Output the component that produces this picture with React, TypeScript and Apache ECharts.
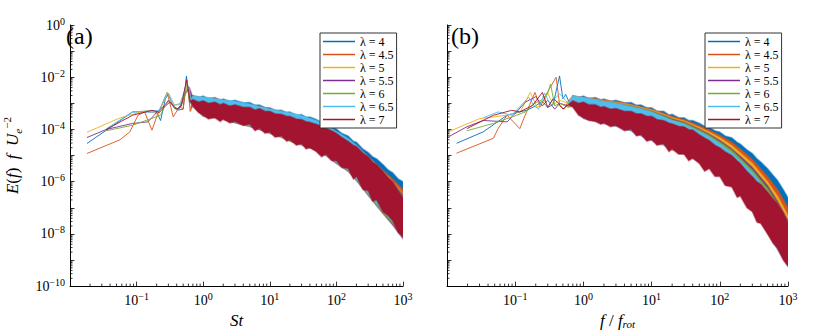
import React, { useEffect, useRef } from "react";
import * as echarts from "echarts";

// ---------- data ----------
const LAMBDAS = ["λ = 4", "λ = 4.5", "λ = 5", "λ = 5.5", "λ = 6", "λ = 6.5", "λ = 7"];
const COLORS = ["#0072BD", "#D95319", "#EDB120", "#7E2F8E", "#77AC30", "#4DBEEE", "#A2142F"];
const PANEL_LABELS = ["(a)", "(b)"];

// frequencies of the broadband (noisy) part of each spectrum
const BAND_X = [0.7, 1, 1.5, 2, 3, 5, 7, 10, 15, 20, 30, 50, 70, 100, 150, 200, 300, 500, 700, 1000];
const DENSE_X = [0.7, 0.85, 1, 1.2, 1.5, 1.8, 2, 2.5, 3, 4, 5, 6, 7, 8.5, 10, 12, 15, 18, 20, 25, 30, 35, 40, 50, 60, 70, 85, 100, 120, 150, 180, 200, 250, 300, 350, 400, 500, 600, 700, 850, 1000];

// ---- panel (a): E(f) f Ue^-2 vs St ----
const A_LOW_4 = [[0.018, 2.9e-5], [0.045, 1.45e-4], [0.087, 4.7e-4], [0.123, 4.7e-4], [0.2, 4.6e-4], [0.229, 2.2e-4], [0.27, 1.5e-3], [0.3, 2.2e-3], [0.36, 7e-4], [0.42, 5.5e-4], [0.5, 6e-4], [0.56, 1.1e-2], [0.62, 1.2e-3]];
const A_LOW_45 = [[0.018, 1.2e-5], [0.056, 4e-5], [0.079, 8e-5], [0.105, 3.5e-4], [0.132, 4.7e-4], [0.17, 9.3e-5], [0.204, 3.5e-4], [0.288, 2.6e-3], [0.355, 3e-4], [0.44, 7.5e-4], [0.5, 6e-4], [0.57, 8e-3], [0.64, 5e-4]];
const A_LOW_5 = [[0.018, 7.8e-5], [0.056, 2.75e-4], [0.123, 4.9e-4], [0.166, 5.4e-4], [0.21, 3.5e-4], [0.288, 2.6e-3], [0.36, 8.3e-4], [0.45, 1.0e-3], [0.58, 5.4e-3], [0.65, 1.5e-3]];
const A_LOW_55 = [[0.018, 4.9e-5], [0.035, 1e-4], [0.087, 1.7e-4], [0.148, 1.95e-4], [0.204, 4.7e-4], [0.26, 8e-4], [0.3, 1.3e-3], [0.37, 7e-4], [0.43, 6e-4], [0.55, 2.5e-3], [0.62, 4e-3]];
const A_LOW_6 = [[0.035, 8.9e-5], [0.087, 1.45e-4], [0.166, 2.6e-4], [0.229, 3.5e-4], [0.27, 9e-4], [0.31, 1.26e-3], [0.38, 6e-4], [0.46, 7e-4], [0.59, 4.7e-3], [0.66, 1.2e-3]];
const A_LOW_65 = [[0.035, 1.07e-4], [0.087, 4.7e-4], [0.22, 5.4e-4], [0.275, 2e-3], [0.3, 2.5e-3], [0.37, 8.5e-4], [0.45, 9e-4], [0.57, 6.3e-3], [0.65, 1.4e-3]];
const A_LOW_7 = [[0.035, 1e-4], [0.087, 3.5e-4], [0.17, 5.4e-4], [0.22, 4.5e-4], [0.275, 8.3e-4], [0.316, 1.12e-3], [0.4, 6e-4], [0.47, 8e-4], [0.562, 7.9e-3], [0.64, 1.2e-3]];

// upper / lower envelopes of the noisy band (λ = 4 and λ = 7 on DENSE_X, others on BAND_X)
const A_UP_4 = [2.0e-3, 1.66e-3, 1.9e-3, 1.51e-3, 1.66e-3, 1.32e-3, 1.48e-3, 1.2e-3, 1.32e-3, 1.05e-3, 1.07e-3, 8.5e-4, 8.7e-4, 6.9e-4, 6.8e-4, 5.4e-4, 5.4e-4, 4.4e-4, 4.7e-4, 3.5e-4, 3.7e-4, 2.95e-4, 3.0e-4, 2.4e-4, 1.9e-4, 1.78e-4, 1.26e-4, 1.05e-4, 7.1e-5, 5.6e-5, 3.5e-5, 3.2e-5, 1.78e-5, 1.32e-5, 8.9e-6, 7.6e-6, 4.5e-6, 2.8e-6, 2.2e-6, 1.26e-6, 1.0e-6];
const A_LO_4 = [8.5e-4, 5.0e-4, 4.0e-4, 3.5e-4, 3.5e-4, 3.1e-4, 3.0e-4, 2.5e-4, 2.2e-4, 1.8e-4, 1.6e-4, 1.4e-4, 1.26e-4, 1.05e-4, 8.9e-5, 7.5e-5, 6.0e-5, 5.0e-5, 4.5e-5, 3.8e-5, 3.2e-5, 2.7e-5, 2.4e-5, 2.0e-5, 1.6e-5, 1.26e-5, 9.0e-6, 6.3e-6, 4.5e-6, 3.2e-6, 2.0e-6, 1.4e-6, 7.0e-7, 4.0e-7, 2.5e-7, 1.8e-7, 7.9e-8, 5.0e-8, 3.2e-8, 1.8e-8, 1.0e-8];
const A_UP_45 = [1.9e-3, 1.66e-3, 1.51e-3, 1.32e-3, 1.12e-3, 8.9e-4, 7.6e-4, 6.0e-4, 4.8e-4, 4.2e-4, 3.2e-4, 2.1e-4, 1.41e-4, 7.9e-5, 4.2e-5, 2.4e-5, 8.9e-6, 2.8e-6, 1.26e-6, 5.0e-7];
const A_LO_45 = [8.0e-4, 3.5e-4, 3.2e-4, 2.6e-4, 2.0e-4, 1.41e-4, 1.12e-4, 7.9e-5, 5.4e-5, 4.0e-5, 2.8e-5, 1.78e-5, 1.12e-5, 5.6e-6, 2.8e-6, 1.26e-6, 3.5e-7, 7.1e-8, 2.8e-8, 8.9e-9];
const A_UP_5 = [1.78e-3, 1.58e-3, 1.41e-3, 1.26e-3, 1.05e-3, 8.3e-4, 7.1e-4, 5.6e-4, 4.5e-4, 3.8e-4, 3.0e-4, 2.0e-4, 1.32e-4, 7.1e-5, 3.8e-5, 2.1e-5, 7.9e-6, 2.4e-6, 1.0e-6, 3.5e-7];
const A_LO_5 = [8.2e-4, 3.4e-4, 3.0e-4, 2.5e-4, 1.9e-4, 1.35e-4, 1.07e-4, 7.6e-5, 5.2e-5, 3.8e-5, 2.7e-5, 1.7e-5, 1.07e-5, 5.4e-6, 2.7e-6, 1.2e-6, 3.4e-7, 6.8e-8, 2.7e-8, 8.5e-9];
const A_UP_55 = [1.66e-3, 1.51e-3, 1.32e-3, 1.2e-3, 1.0e-3, 7.9e-4, 6.6e-4, 5.2e-4, 4.2e-4, 3.5e-4, 2.8e-4, 1.9e-4, 1.26e-4, 6.6e-5, 3.5e-5, 2.0e-5, 7.6e-6, 2.2e-6, 8.9e-7, 3.2e-7];
const A_LO_55 = [7.9e-4, 3.2e-4, 2.9e-4, 2.4e-4, 1.8e-4, 1.3e-4, 1.0e-4, 7.2e-5, 5.0e-5, 3.6e-5, 2.6e-5, 1.6e-5, 1.0e-5, 5.0e-6, 2.5e-6, 1.1e-6, 3.0e-7, 6.0e-8, 2.2e-8, 6.5e-9];
const A_UP_6 = [1.66e-3, 1.41e-3, 1.26e-3, 1.12e-3, 9.5e-4, 7.6e-4, 6.3e-4, 5.0e-4, 4.0e-4, 3.3e-4, 2.6e-4, 1.78e-4, 1.2e-4, 6.3e-5, 3.3e-5, 1.9e-5, 7.1e-6, 2.1e-6, 8.3e-7, 2.8e-7];
const A_LO_6 = [8.0e-4, 3.3e-4, 2.9e-4, 2.45e-4, 1.85e-4, 1.3e-4, 1.02e-4, 7.3e-5, 5.0e-5, 3.7e-5, 2.6e-5, 1.65e-5, 1.03e-5, 5.2e-6, 2.6e-6, 1.15e-6, 3.2e-7, 6.5e-8, 2.5e-8, 7.5e-9];
const A_UP_65 = [1.9e-3, 1.74e-3, 1.51e-3, 1.35e-3, 1.2e-3, 9.5e-4, 7.6e-4, 6.0e-4, 5.0e-4, 4.4e-4, 3.4e-4, 2.2e-4, 1.51e-4, 8.3e-5, 4.5e-5, 2.5e-5, 8.9e-6, 2.5e-6, 8.9e-7, 2.5e-7];
const A_LO_65 = [8.3e-4, 3.4e-4, 3.0e-4, 2.5e-4, 1.9e-4, 1.35e-4, 1.08e-4, 7.7e-5, 5.3e-5, 3.9e-5, 2.7e-5, 1.75e-5, 1.1e-5, 5.5e-6, 2.8e-6, 1.25e-6, 3.6e-7, 7.5e-8, 3.0e-8, 1.0e-8];
const A_UP_7 = [1.41e-3, 1.12e-3, 1.26e-3, 1.0e-3, 1.12e-3, 8.9e-4, 1.0e-3, 7.9e-4, 8.9e-4, 7.1e-4, 7.1e-4, 5.6e-4, 6.3e-4, 5.0e-4, 5.0e-4, 4.0e-4, 3.8e-4, 3.2e-4, 3.2e-4, 2.5e-4, 2.4e-4, 2.0e-4, 1.9e-4, 1.58e-4, 1.32e-4, 1.12e-4, 8.9e-5, 7.1e-5, 5.0e-5, 3.5e-5, 2.5e-5, 2.2e-5, 1.26e-5, 8.9e-6, 5.6e-6, 4.5e-6, 2.5e-6, 1.41e-6, 1.0e-6, 4.5e-7, 2.5e-7];
const A_LO_7 = [7.9e-4, 4.5e-4, 3.5e-4, 2.5e-4, 2.8e-4, 2.0e-4, 2.5e-4, 1.78e-4, 2.0e-4, 1.41e-4, 1.58e-4, 8.9e-5, 1.12e-4, 7.1e-5, 7.9e-5, 5.0e-5, 5.6e-5, 3.5e-5, 4.0e-5, 2.5e-5, 2.8e-5, 1.78e-5, 2.0e-5, 1.41e-5, 8.9e-6, 1.12e-5, 6.3e-6, 6.3e-6, 3.5e-6, 3.2e-6, 1.26e-6, 1.58e-6, 5.0e-7, 4.5e-7, 1.78e-7, 2.0e-7, 7.1e-8, 5.0e-8, 3.2e-8, 1.12e-8, 7.9e-9];

// ---- panel (b): E(f) f Ue^-2 vs f/f_rot ----
const B_LOW_4 = [[0.0138, 2.95e-5], [0.034, 8.1e-5], [0.076, 3.5e-4], [0.11, 4.5e-4], [0.15, 5.5e-4], [0.2, 8e-4], [0.25, 1.2e-3], [0.3, 7e-4], [0.36, 9e-4], [0.447, 1.12e-2], [0.5, 1.5e-3], [0.55, 2.2e-3], [0.64, 9e-4]];
const B_LOW_45 = [[0.0138, 1.23e-5], [0.048, 4.6e-5], [0.056, 1.07e-4], [0.076, 3.5e-4], [0.117, 1.07e-4], [0.14, 3.5e-4], [0.195, 2.6e-3], [0.234, 7.5e-4], [0.3, 2.8e-3], [0.398, 1e-2], [0.45, 8e-4], [0.52, 6e-4], [0.6, 1.2e-3]];
const B_LOW_5 = [[0.0105, 8.1e-5], [0.03, 2.6e-4], [0.076, 3.5e-4], [0.12, 5e-4], [0.166, 2.6e-3], [0.21, 7e-4], [0.26, 1e-3], [0.3, 2.5e-3], [0.36, 9e-4], [0.45, 1.3e-3], [0.6, 1e-3]];
const B_LOW_55 = [[0.0105, 5.2e-5], [0.0195, 1.26e-4], [0.034, 2.2e-4], [0.076, 1.95e-4], [0.105, 4.7e-4], [0.14, 1.1e-3], [0.2, 1.8e-3], [0.25, 8e-4], [0.3, 1.3e-3], [0.38, 6e-4], [0.45, 1e-3], [0.6, 8e-4]];
const B_LOW_6 = [[0.0195, 8.9e-5], [0.048, 1.7e-4], [0.105, 3.5e-4], [0.14, 4.7e-4], [0.19, 1.0e-3], [0.24, 1.3e-3], [0.3, 2.5e-3], [0.33, 5.5e-3], [0.38, 8e-4], [0.45, 1e-3], [0.6, 7e-4]];
const B_LOW_65 = [[0.034, 2.8e-4], [0.056, 4.7e-4], [0.089, 3.5e-4], [0.141, 1.26e-3], [0.158, 1.7e-3], [0.19, 8e-4], [0.22, 6e-4], [0.27, 2.5e-3], [0.32, 1e-3], [0.45, 2.3e-3], [0.6, 1e-3]];
const B_LOW_7 = [[0.0195, 1.07e-4], [0.048, 3.5e-4], [0.089, 5.4e-4], [0.117, 4.7e-4], [0.18, 8.3e-4], [0.25, 2.6e-3], [0.3, 7e-4], [0.36, 1.5e-3], [0.42, 1.1e-3], [0.5, 6e-4], [0.6, 9e-4]];

const B_UP_4 = [2.0e-3, 1.66e-3, 1.9e-3, 1.51e-3, 1.66e-3, 1.32e-3, 1.48e-3, 1.2e-3, 1.32e-3, 1.05e-3, 1.07e-3, 8.5e-4, 8.7e-4, 6.8e-4, 6.8e-4, 5.0e-4, 5.0e-4, 3.6e-4, 3.8e-4, 2.8e-4, 2.8e-4, 2.2e-4, 2.2e-4, 1.74e-4, 1.32e-4, 1.2e-4, 8.9e-5, 7.9e-5, 5.6e-5, 4.8e-5, 3.2e-5, 2.75e-5, 1.66e-5, 1.2e-5, 7.6e-6, 5.6e-6, 3.2e-6, 1.78e-6, 1.12e-6, 5.0e-7, 2.4e-7];
const B_LO_4 = [8.5e-4, 4.5e-4, 3.5e-4, 3.1e-4, 2.8e-4, 2.4e-4, 2.2e-4, 2.0e-4, 1.78e-4, 1.5e-4, 1.26e-4, 1.05e-4, 8.9e-5, 7.5e-5, 6.3e-5, 5.2e-5, 4.2e-5, 3.5e-5, 3.2e-5, 2.6e-5, 2.2e-5, 1.8e-5, 1.6e-5, 1.26e-5, 1.0e-5, 7.9e-6, 6.0e-6, 4.5e-6, 3.2e-6, 2.2e-6, 1.5e-6, 1.12e-6, 6.0e-7, 3.5e-7, 2.0e-7, 1.3e-7, 6.3e-8, 3.5e-8, 2.0e-8, 8.0e-9, 4.0e-9];
const B_UP_45 = [1.9e-3, 1.7e-3, 1.51e-3, 1.35e-3, 1.17e-3, 9.3e-4, 7.4e-4, 5.9e-4, 4.2e-4, 3.2e-4, 2.4e-4, 1.41e-4, 9.5e-5, 6.0e-5, 3.2e-5, 1.78e-5, 7.1e-6, 1.58e-6, 5.0e-7, 1.0e-7];
const B_LO_45 = [8.0e-4, 3.2e-4, 2.5e-4, 2.0e-4, 1.58e-4, 1.12e-4, 7.9e-5, 5.4e-5, 3.5e-5, 2.5e-5, 1.78e-5, 1.0e-5, 6.3e-6, 3.5e-6, 1.78e-6, 7.9e-7, 2.5e-7, 4.0e-8, 1.12e-8, 2.2e-9];
const B_UP_5 = [1.78e-3, 1.58e-3, 1.41e-3, 1.26e-3, 1.1e-3, 8.7e-4, 6.9e-4, 5.5e-4, 3.8e-4, 2.8e-4, 2.1e-4, 1.2e-4, 7.9e-5, 4.8e-5, 2.4e-5, 1.26e-5, 5.0e-6, 1.0e-6, 2.8e-7, 5.0e-8];
const B_LO_5 = [8.2e-4, 3.0e-4, 2.4e-4, 1.9e-4, 1.51e-4, 1.05e-4, 7.1e-5, 4.8e-5, 3.2e-5, 2.2e-5, 1.51e-5, 8.3e-6, 5.2e-6, 2.8e-6, 1.41e-6, 6.3e-7, 1.78e-7, 2.5e-8, 6.3e-9, 1.26e-9];
const B_UP_55 = [1.66e-3, 1.48e-3, 1.32e-3, 1.17e-3, 1.0e-3, 7.9e-4, 6.3e-4, 5.0e-4, 3.4e-4, 2.5e-4, 1.9e-4, 1.05e-4, 6.6e-5, 3.8e-5, 1.78e-5, 9.3e-6, 3.5e-6, 7.1e-7, 1.78e-7, 3.2e-8];
const B_LO_55 = [7.9e-4, 2.8e-4, 2.2e-4, 1.78e-4, 1.41e-4, 9.5e-5, 6.3e-5, 4.3e-5, 2.8e-5, 2.0e-5, 1.32e-5, 7.1e-6, 4.5e-6, 2.4e-6, 1.12e-6, 5.0e-7, 1.26e-7, 1.78e-8, 4.0e-9, 7.9e-10];
const B_UP_6 = [1.66e-3, 1.45e-3, 1.26e-3, 1.12e-3, 9.5e-4, 7.6e-4, 6.0e-4, 4.8e-4, 3.2e-4, 2.3e-4, 1.78e-4, 9.5e-5, 6.0e-5, 3.3e-5, 1.58e-5, 7.9e-6, 2.8e-6, 5.6e-7, 1.41e-7, 2.5e-8];
const B_LO_6 = [8.0e-4, 2.75e-4, 2.2e-4, 1.74e-4, 1.38e-4, 9.1e-5, 6.0e-5, 4.0e-5, 2.6e-5, 1.86e-5, 1.2e-5, 6.3e-6, 4.0e-6, 2.1e-6, 1.0e-6, 4.2e-7, 1.0e-7, 1.41e-8, 3.2e-9, 7.1e-10];
const B_UP_65 = [1.9e-3, 1.66e-3, 1.41e-3, 1.2e-3, 1.0e-3, 7.6e-4, 6.0e-4, 4.7e-4, 3.0e-4, 2.2e-4, 1.58e-4, 8.3e-5, 5.2e-5, 2.8e-5, 1.26e-5, 6.3e-6, 2.2e-6, 4.0e-7, 1.0e-7, 1.58e-8];
const B_LO_65 = [8.3e-4, 2.6e-4, 2.1e-4, 1.66e-4, 1.32e-4, 8.7e-5, 5.6e-5, 3.8e-5, 2.5e-5, 1.74e-5, 1.12e-5, 5.6e-6, 3.5e-6, 1.78e-6, 8.3e-7, 3.5e-7, 8.9e-8, 1.12e-8, 2.5e-9, 6.3e-10];
const B_UP_7 = [1.26e-3, 1.0e-3, 1.12e-3, 8.9e-4, 8.9e-4, 7.1e-4, 7.6e-4, 6.0e-4, 6.3e-4, 5.0e-4, 5.0e-4, 4.0e-4, 4.0e-4, 3.2e-4, 3.2e-4, 2.4e-4, 2.2e-4, 1.78e-4, 1.66e-4, 1.32e-4, 1.26e-4, 1.0e-4, 9.5e-5, 6.3e-5, 4.7e-5, 3.8e-5, 2.5e-5, 2.0e-5, 1.41e-5, 1.0e-5, 6.3e-6, 5.0e-6, 2.5e-6, 1.58e-6, 1.0e-6, 7.9e-7, 4.0e-7, 2.2e-7, 1.41e-7, 6.3e-8, 2.5e-8];
const B_LO_7 = [7.1e-4, 3.5e-4, 2.8e-4, 2.2e-4, 2.0e-4, 1.58e-4, 1.78e-4, 1.26e-4, 1.41e-4, 8.9e-5, 1.0e-4, 5.6e-5, 6.3e-5, 3.5e-5, 4.0e-5, 2.5e-5, 2.8e-5, 1.41e-5, 1.78e-5, 1.12e-5, 1.12e-5, 6.3e-6, 7.9e-6, 5.0e-6, 2.5e-6, 3.2e-6, 1.58e-6, 1.58e-6, 7.1e-7, 6.3e-7, 2.5e-7, 2.8e-7, 1.0e-7, 7.1e-8, 2.8e-8, 2.5e-8, 1.0e-8, 4.5e-9, 2.8e-9, 1.0e-9, 5.6e-10];

const PANELS = [
  {
    low: [A_LOW_4, A_LOW_45, A_LOW_5, A_LOW_55, A_LOW_6, A_LOW_65, A_LOW_7],
    up: [A_UP_4, A_UP_45, A_UP_5, A_UP_55, A_UP_6, A_UP_65, A_UP_7],
    lo: [A_LO_4, A_LO_45, A_LO_5, A_LO_55, A_LO_6, A_LO_65, A_LO_7],
  },
  {
    low: [B_LOW_4, B_LOW_45, B_LOW_5, B_LOW_55, B_LOW_6, B_LOW_65, B_LOW_7],
    up: [B_UP_4, B_UP_45, B_UP_5, B_UP_55, B_UP_6, B_UP_65, B_UP_7],
    lo: [B_LO_4, B_LO_45, B_LO_5, B_LO_55, B_LO_6, B_LO_65, B_LO_7],
  },
];
const BAND_XS = [DENSE_X, BAND_X, BAND_X, BAND_X, BAND_X, BAND_X, DENSE_X];

const X_MIN = 0.01;
const X_MAX = 1000;
const Y_MIN = 1e-10;
const Y_MAX = 1;

// ---------- layout ----------
const FONT = "Liberation Serif";
const GRIDS = [
  { left: 62, top: 25, width: 341, height: 265 },
  { left: 447, top: 25, width: 341, height: 265 },
];

const supText = (e: number) => (e < 0 ? "−" + Math.abs(e) : String(e));

const tickRich = {
  b: { fontFamily: FONT, fontSize: 14, color: "#000", lineHeight: 18 },
  s: { fontFamily: FONT, fontSize: 10, color: "#000", verticalAlign: "top", lineHeight: 10 },
};

const axisCommon = {
  type: "log",
  logBase: 10,
  interval: 1,
  axisLine: { show: true, lineStyle: { color: "#000", width: 1 } },
  axisTick: { show: true, inside: true, length: 4.5, lineStyle: { color: "#000", width: 0.8 } },
  splitLine: { show: false },
};

function makeXAxis(i: number, name: string) {
  return {
    ...axisCommon,
    gridIndex: i,
    min: X_MIN,
    max: X_MAX,
    axisLabel: {
      margin: 5,
      fontFamily: FONT,
      formatter: (v: number) => {
        const e = Math.round(Math.log10(v));
        if (e <= -2) return "";
        return `{b|10}{s|${supText(e)}}`;
      },
      rich: tickRich,
    },
    name,
    nameLocation: "middle",
    nameGap: 23,
    nameTextStyle: {
      fontFamily: FONT,
      fontSize: 17,
      color: "#000",
      rich: {
        i: { fontFamily: FONT, fontSize: 17, fontStyle: "italic", color: "#000" },
        n: { fontFamily: FONT, fontSize: 17, color: "#000" },
        sub: { fontFamily: FONT, fontSize: 11, fontStyle: "italic", color: "#000", verticalAlign: "bottom", lineHeight: 11 },
      },
    },
  };
}

function makeYAxis(i: number, showLabels: boolean) {
  return {
    ...axisCommon,
    gridIndex: i,
    min: Y_MIN,
    max: Y_MAX,
    axisLabel: {
      show: showLabels,
      margin: 5,
      fontFamily: FONT,
      formatter: (v: number) => {
        const e = Math.round(Math.log10(v));
        if (e % 2 !== 0) return "";
        return `{b|10}{s|${supText(e)}}`;
      },
      rich: tickRich,
    },
    name: showLabels ? "{i|E}{n|(}{i|f}{n|)}  {i|f}  {i|U}{sub|e}{sup|−2}" : "",
    nameLocation: "middle",
    nameRotate: 90,
    nameGap: 47,
    nameTextStyle: {
      fontFamily: FONT,
      fontSize: 17,
      color: "#000",
      rich: {
        i: { fontFamily: FONT, fontSize: 17, fontStyle: "italic", color: "#000", lineHeight: 22 },
        n: { fontFamily: FONT, fontSize: 17, color: "#000", lineHeight: 22 },
        sub: { fontFamily: FONT, fontSize: 11, fontStyle: "italic", color: "#000", verticalAlign: "bottom", lineHeight: 11 },
        sup: { fontFamily: FONT, fontSize: 11, color: "#000", verticalAlign: "top", lineHeight: 11 },
      },
    },
  };
}

function spectrumSeries(panel: number, k: number) {
  const low = PANELS[panel].low[k];
  const up = PANELS[panel].up[k];
  const lo = PANELS[panel].lo[k];
  const bx = BAND_XS[k];
  const color = COLORS[k];
  return {
    type: "custom",
    name: LAMBDAS[k],
    coordinateSystem: "cartesian2d",
    xAxisIndex: panel,
    yAxisIndex: panel,
    data: [[1, 1e-3]],
    encode: { x: 0, y: 1 },
    silent: true,
    clip: true,
    z: 2 + k,
    itemStyle: { color },
    renderItem: (_params: any, api: any) => {
      const line: number[][] = low.map((p) => api.coord([p[0], p[1]]));
      const last = line[line.length - 1];
      const poly: number[][] = [last];
      bx.forEach((x, j) => poly.push(api.coord([x, up[j]])));
      for (let j = bx.length - 1; j >= 0; j--) poly.push(api.coord([bx[j], lo[j]]));
      return {
        type: "group",
        children: [
          {
            type: "polygon",
            shape: { points: poly },
            style: { fill: color, stroke: color, lineWidth: 1.6, strokeOpacity: 0.45, lineJoin: "round" },
          },
          {
            type: "polyline",
            shape: { points: line },
            style: { fill: null, stroke: color, lineWidth: 0.9, lineJoin: "round" },
          },
        ],
      };
    },
  };
}

function minorTickSeries(panel: number) {
  return {
    type: "custom",
    name: "minor-ticks-" + panel,
    coordinateSystem: "cartesian2d",
    xAxisIndex: panel,
    yAxisIndex: panel,
    data: [[1, 1e-3]],
    encode: { x: 0, y: 1 },
    silent: true,
    clip: false,
    z: 20,
    renderItem: (_params: any, api: any) => {
      const children: any[] = [];
      const st = { stroke: "#000", lineWidth: 0.8 };
      for (let k = -2; k < 3; k++) {
        for (let m = 2; m <= 9; m++) {
          const p = api.coord([m * Math.pow(10, k), Y_MIN]);
          children.push({ type: "line", shape: { x1: p[0], y1: p[1], x2: p[0], y2: p[1] - 2.5 }, style: st });
        }
      }
      for (let k = -10; k < 0; k++) {
        for (let m = 2; m <= 9; m++) {
          const p = api.coord([X_MIN, m * Math.pow(10, k)]);
          children.push({ type: "line", shape: { x1: p[0], y1: p[1], x2: p[0] + 2.5, y2: p[1] }, style: st });
        }
      }
      return { type: "group", children };
    },
  };
}

function makeLegend(left: number) {
  return {
    data: LAMBDAS,
    orient: "vertical",
    left,
    top: 33,
    icon: "rect",
    itemWidth: 32,
    itemHeight: 1.5,
    itemGap: 0,
    padding: [2, 3, 2, 3],
    borderColor: "#333",
    borderWidth: 1,
    backgroundColor: "#fff",
    selectedMode: false,
    textStyle: { fontFamily: FONT, fontSize: 12, lineHeight: 13, color: "#000" },
    z: 30,
  };
}

export default function App() {
  const ref = useRef<HTMLDivElement>(null);
  useEffect(() => {
    if (!ref.current) return;
    const chart = echarts.init(ref.current, undefined, { renderer: "svg" });
    const series: any[] = [];
    for (let p = 0; p < 2; p++) {
      for (let k = 0; k < LAMBDAS.length; k++) series.push(spectrumSeries(p, k));
      series.push(minorTickSeries(p));
    }
    chart.setOption({
      animation: false,
      backgroundColor: "#fff",
      color: COLORS,
      textStyle: { fontFamily: FONT },
      grid: GRIDS.map((g) => ({ ...g, containLabel: false })),
      xAxis: [makeXAxis(0, "{i|St}"), makeXAxis(1, "{i|f} {n|/} {i|f}{sub|rot}")],
      yAxis: [makeYAxis(0, true), makeYAxis(1, false)],
      legend: [makeLegend(320), makeLegend(705)],
      graphic: PANEL_LABELS.map((t, i) => ({
        type: "text",
        left: GRIDS[i].left + 4,
        top: 24,
        z: 40,
        style: { text: t, fontSize: 24, fontFamily: FONT, fill: "#000" },
      })),
      series,
    });
    return () => chart.dispose();
  }, []);
  return <div ref={ref} style={{ position: "fixed", left: 0, top: 0, width: 830, height: 334 }} />;
}
